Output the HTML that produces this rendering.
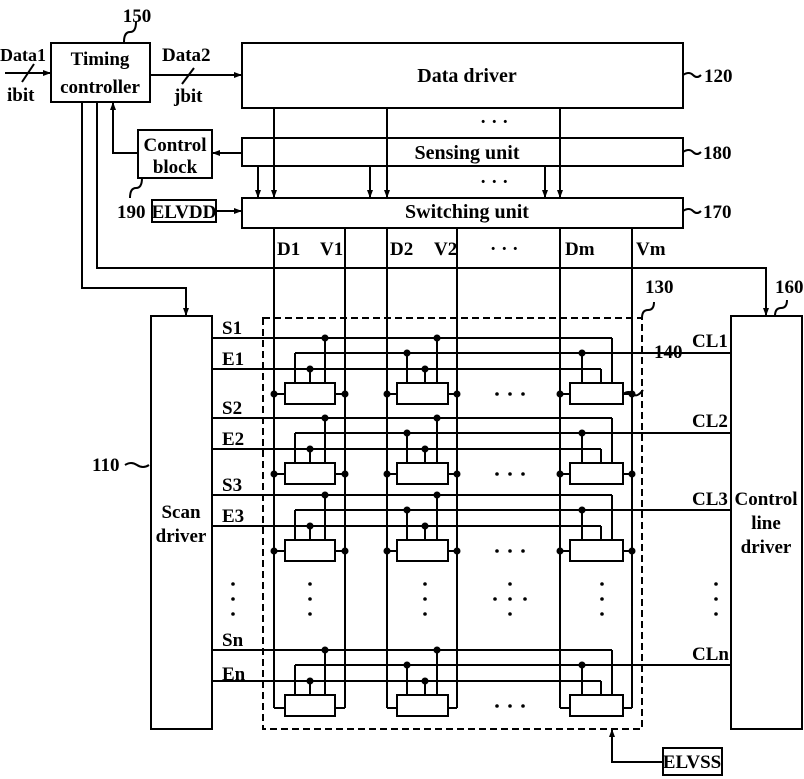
<!DOCTYPE html>
<html><head><meta charset="utf-8"><style>
html,body{margin:0;padding:0;background:#fff;}
svg{display:block;}
text{font-family:"Liberation Serif",serif;font-weight:bold;fill:#000;}
</style></head><body>
<svg id="s" width="804" height="779" viewBox="0 0 804 779" xmlns="http://www.w3.org/2000/svg">
<defs><marker id="a" markerWidth="8" markerHeight="8" refX="7" refY="4" orient="auto" markerUnits="userSpaceOnUse"><path d="M0,1 L8,4 L0,7 Z" fill="#000"/></marker></defs>
<g stroke="#000" stroke-width="2" fill="none" id="g">
<rect x="51" y="43" width="99" height="59"/>
<rect x="242" y="43" width="441" height="65"/>
<rect x="242" y="138" width="441" height="28"/>
<rect x="138" y="130" width="74" height="48"/>
<rect x="242" y="198" width="441" height="30"/>
<rect x="152" y="200" width="64" height="22"/>
<rect x="151" y="316" width="61" height="413"/>
<rect x="731" y="316" width="71" height="413"/>
<rect x="663" y="748" width="59" height="27"/>
<rect x="263" y="318" width="379" height="411" stroke-dasharray="7,4"/>
<line x1="5" y1="73" x2="50" y2="73" marker-end="url(#a)"/>
<line x1="22" y1="82" x2="34" y2="64"/>
<line x1="150" y1="75" x2="241" y2="75" marker-end="url(#a)"/>
<line x1="182" y1="84" x2="194" y2="68"/>
<polyline points="82,102 82,288 186,288 186,315" marker-end="url(#a)"/>
<polyline points="97,102 97,268 766,268 766,315" marker-end="url(#a)"/>
<polyline points="138,153 113,153 113,103" marker-end="url(#a)"/>
<line x1="242" y1="153" x2="213" y2="153" marker-end="url(#a)"/>
<line x1="216" y1="211" x2="241" y2="211" marker-end="url(#a)"/>
<line x1="274" y1="108" x2="274" y2="197" marker-end="url(#a)"/>
<line x1="387" y1="108" x2="387" y2="197" marker-end="url(#a)"/>
<line x1="560" y1="108" x2="560" y2="197" marker-end="url(#a)"/>
<line x1="258" y1="166" x2="258" y2="197" marker-end="url(#a)"/>
<line x1="370" y1="166" x2="370" y2="197" marker-end="url(#a)"/>
<line x1="545" y1="166" x2="545" y2="197" marker-end="url(#a)"/>
<polyline points="663,762 612,762 612,730" marker-end="url(#a)"/>
<path d="M683,75 q6,-4 10,0 t8,0"/>
<path d="M683,152 q6,-4 10,0 t8,0"/>
<path d="M683,211 q6,-4 10,0 t8,0"/>
<path d="M125,465 q6,-4 12,0 t12,0"/>
<path d="M124,42 q0,-10 6,-10 t6,-10"/>
<path d="M142,178 q0,10 -6,10 t-6,10"/>
<path d="M642,318 q0,-8 6,-8 t6,-8"/>
<path d="M775,316 q0,-8 6,-8 t6,-8"/>
<path d="M623,394 q6,-4 10,0 t10,-4"/>
</g>
<g font-size="19">
<text x="137" y="22" text-anchor="middle">150</text>
<text x="0" y="61" font-size="18">Data1</text>
<text x="7" y="101">ibit</text>
<text x="100" y="65" text-anchor="middle">Timing</text>
<text x="100" y="93" text-anchor="middle">controller</text>
<text x="162" y="61">Data2</text>
<text x="174" y="102">jbit</text>
<text x="467" y="82" text-anchor="middle" font-size="20">Data driver</text>
<text x="704" y="82">120</text>
<text x="175" y="151" text-anchor="middle">Control</text>
<text x="175" y="173" text-anchor="middle">block</text>
<text x="467" y="159" text-anchor="middle" font-size="20">Sensing unit</text>
<text x="703" y="159">180</text>
<text x="117" y="218">190</text>
<text x="184" y="218" text-anchor="middle">ELVDD</text>
<text x="467" y="218" text-anchor="middle" font-size="20">Switching unit</text>
<text x="703" y="218">170</text>
<text x="480" y="128">·  ·  ·</text>
<text x="480" y="188">·  ·  ·</text>
<text x="277" y="255">D1</text><text x="320" y="255">V1</text>
<text x="390" y="255">D2</text><text x="434" y="255">V2</text>
<text x="490" y="255">·  ·  ·</text>
<text x="565" y="255">Dm</text><text x="636" y="255">Vm</text>
<text x="645" y="293">130</text>
<text x="775" y="293">160</text>
<text x="654" y="358">140</text>
<text x="92" y="471">110</text>
<text x="181" y="518" text-anchor="middle">Scan</text>
<text x="181" y="542" text-anchor="middle">driver</text>
<text x="766" y="505" text-anchor="middle">Control</text>
<text x="766" y="529" text-anchor="middle">line</text>
<text x="766" y="553" text-anchor="middle">driver</text>
<text x="222" y="334">S1</text><text x="222" y="365">E1</text>
<text x="222" y="414">S2</text><text x="222" y="445">E2</text>
<text x="222" y="491">S3</text><text x="222" y="522">E3</text>
<text x="222" y="646">Sn</text><text x="222" y="680">En</text>
<text x="692" y="347">CL1</text><text x="692" y="427">CL2</text>
<text x="692" y="505">CL3</text><text x="692" y="660">CLn</text>
<text x="692" y="768" text-anchor="middle">ELVSS</text>
</g>
<g id="d"></g>
</svg>
<script>
var NS="http://www.w3.org/2000/svg",G=document.getElementById('g'),D=document.getElementById('d');
function L(x1,y1,x2,y2){var e=document.createElementNS(NS,'line');e.setAttribute('x1',x1);e.setAttribute('y1',y1);e.setAttribute('x2',x2);e.setAttribute('y2',y2);G.appendChild(e);}
function R(x,y,w,h){var e=document.createElementNS(NS,'rect');e.setAttribute('x',x);e.setAttribute('y',y);e.setAttribute('width',w);e.setAttribute('height',h);G.appendChild(e);}
function C(x,y,r){var e=document.createElementNS(NS,'circle');e.setAttribute('cx',x);e.setAttribute('cy',y);e.setAttribute('r',r||3.5);e.setAttribute('fill','#000');D.appendChild(e);}
[274,345,387,457,560,632].forEach(function(x){L(x,228,x,708);});
[[274,285],[345,335],[387,397],[457,448],[560,570],[632,623]].forEach(function(p){L(p[0],708,p[1],708);});
[338,418,495,650].forEach(function(s){
 var cl=s+15,e=s+31,bt=s+45,c=s+56;
 L(212,s,612,s);L(612,s,612,bt);
 L(212,e,601,e);L(601,e,601,bt);
 L(295,cl,731,cl);L(295,cl,295,bt);
 R(285,bt,50,21);R(397,bt,51,21);R(570,bt,53,21);
 L(310,e,310,bt);C(310,e);L(325,s,325,bt);C(325,s);
 L(407,cl,407,bt);C(407,cl);L(425,e,425,bt);C(425,e);L(437,s,437,bt);C(437,s);
 L(582,cl,582,bt);C(582,cl);
 if(s!=650){[[274,285],[345,335],[387,397],[457,448],[560,570],[632,623]].forEach(function(p){L(p[0],c,p[1],c);C(p[0],c);});}
 [497,510,523].forEach(function(x){C(x,c,1.8);});
});
[233,310,425,510,602,716].forEach(function(x){[584,599,614].forEach(function(y){C(x,y,1.8);});});
C(495,599,1.8);C(525,599,1.8);
</script>
</body></html>
